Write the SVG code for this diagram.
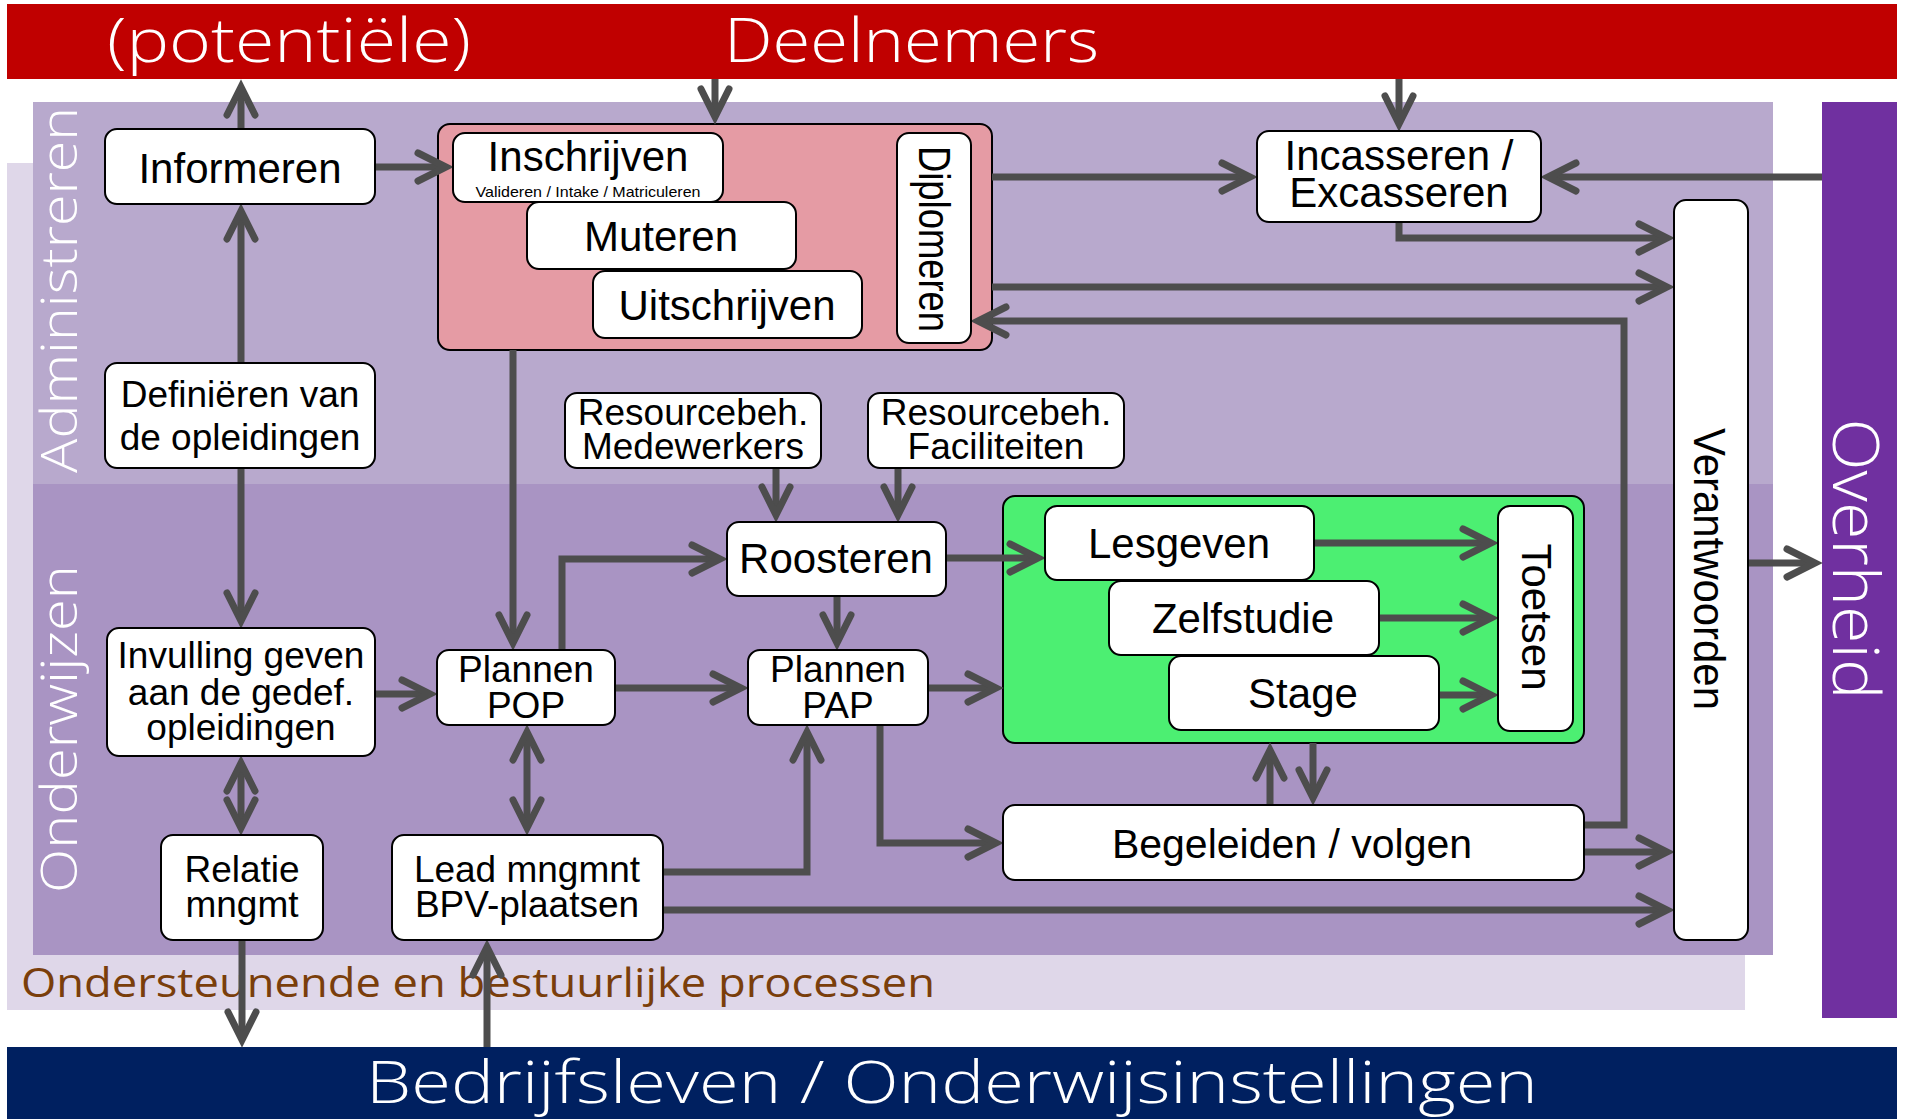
<svg xmlns="http://www.w3.org/2000/svg" width="1906" height="1119" viewBox="0 0 1906 1119">
  <style>
    .band-text { font-family: "Open Sans", "Liberation Sans", sans-serif; font-weight: 300; fill: #ffffff; }
    .lane-text { font-family: "Open Sans", "Liberation Sans", sans-serif; font-weight: 300; fill: #ffffff; }
    .box { fill: #ffffff; stroke: #000000; stroke-width: 2; }
    .lbl { font-family: "Liberation Sans", Arial, sans-serif; fill: #000000; text-anchor: middle; }
    .f42 { font-size: 42px; }
    .f37 { font-size: 37px; }
    .conn { fill: none; stroke: #4d4d4d; stroke-width: 7; marker-end: url(#ah); }
    .both { marker-start: url(#ah); }
  </style>
  <defs>
    <marker id="ah" markerUnits="userSpaceOnUse" viewBox="-40 -20 50 40" refX="0" refY="0" markerWidth="50" markerHeight="40" orient="auto-start-reverse" overflow="visible">
      <path d="M-28,-14 L0,0 L-28,14" fill="none" stroke="#4d4d4d" stroke-width="7" stroke-linecap="round" stroke-linejoin="miter"/>
    </marker>
  </defs>

  <!-- background lanes -->
  <rect x="7" y="163" width="1738" height="847" fill="#dfd7e9"/>
  <rect x="33" y="102" width="1740" height="383" fill="#b8a9cd"/>
  <rect x="33" y="484" width="1740" height="471" fill="#a994c3"/>

  <!-- outer parties -->
  <g id="deelnemers">
    <rect x="7" y="4" width="1890" height="75" fill="#c00000"/>
    <text class="band-text" x="107" y="62" font-size="60" textLength="364" lengthAdjust="spacingAndGlyphs">(potentiële)</text>
    <text class="band-text" x="724" y="62" font-size="60" textLength="375" lengthAdjust="spacingAndGlyphs">Deelnemers</text>
  </g>
  <g id="overheid">
    <rect x="1822" y="102" width="75" height="916" fill="#7030a0"/>
    <text class="band-text" transform="translate(1833,559) rotate(90)" text-anchor="middle" font-size="64" textLength="281" lengthAdjust="spacingAndGlyphs">Overheid</text>
  </g>
  <g id="bedrijfsleven">
    <rect x="7" y="1047" width="1890" height="72" fill="#002060"/>
    <text class="band-text" x="366" y="1103" font-size="58" textLength="1172" lengthAdjust="spacingAndGlyphs">Bedrijfsleven / Onderwijsinstellingen</text>
  </g>

  <!-- lane captions -->
  <text class="lane-text" transform="translate(77,290) rotate(-90)" text-anchor="middle" font-size="50" textLength="366" lengthAdjust="spacingAndGlyphs">Administreren</text>
  <text class="lane-text" transform="translate(77,729) rotate(-90)" text-anchor="middle" font-size="50" textLength="328" lengthAdjust="spacingAndGlyphs">Onderwijzen</text>
  <text x="21" y="997" font-family="'Open Sans', 'Liberation Sans', sans-serif" font-size="40" fill="#7a3e0b" textLength="914" lengthAdjust="spacingAndGlyphs">Ondersteunende en bestuurlijke processen</text>

  <!-- containers -->
  <g id="studentadmin">
    <rect x="438" y="124" width="554" height="226" rx="12" fill="#e59ba4" stroke="#000" stroke-width="2"/>
  </g>
  <g id="onderwijsuitvoering">
    <rect x="1003" y="496" width="581" height="247" rx="12" fill="#4cef72" stroke="#000" stroke-width="2"/>
  </g>

  <!-- connectors -->
  <g id="connectors">
    <path class="conn" d="M241,129 V87"/>
    <path class="conn" d="M241,363 V211"/>
    <path class="conn" d="M375,167 H446"/>
    <path class="conn" d="M715,79 V117"/>
    <path class="conn" d="M1399,79 V124"/>
    <path class="conn" d="M992,177 H1250"/>
    <path class="conn" d="M1822,177 H1548"/>
    <path class="conn" d="M1399,222 V238 H1667"/>
    <path class="conn" d="M992,287 H1667"/>
    <path class="conn" d="M1584,825 H1624 V321 H978"/>
    <path class="conn" d="M513,350 V643"/>
    <path class="conn" d="M241,468 V621"/>
    <path class="conn" d="M375,694 H430"/>
    <path class="conn" d="M562,650 V559 H720"/>
    <path class="conn" d="M776,468 V515"/>
    <path class="conn" d="M898,468 V515"/>
    <path class="conn" d="M837,596 V643"/>
    <path class="conn" d="M615,688 H741"/>
    <path class="conn" d="M928,688 H996"/>
    <path class="conn" d="M946,558 H1038"/>
    <path class="conn" d="M1314,543 H1491"/>
    <path class="conn" d="M1379,618 H1491"/>
    <path class="conn" d="M1439,695 H1491"/>
    <path class="conn" d="M880,725 V843 H996"/>
    <path class="conn" d="M1270,805 V750"/>
    <path class="conn" d="M1313,743 V798"/>
    <path class="conn" d="M1584,852 H1667"/>
    <path class="conn" d="M663,910 H1667"/>
    <path class="conn" d="M663,872 H807 V732"/>
    <path class="conn" d="M1748,563 H1815"/>
    <path class="conn both" d="M241,763 V828"/>
    <path class="conn both" d="M527,732 V828"/>
    <path class="conn" d="M242,940 V1040"/>
    <path class="conn" d="M487,1047 V947"/>
  </g>

  <!-- nodes -->
  <g id="informeren">
    <rect class="box" x="105" y="129" width="270" height="75" rx="12"/>
    <text class="lbl f42" x="240" y="183">Informeren</text>
  </g>
  <g id="inschrijven">
    <rect class="box" x="453" y="133" width="270" height="69" rx="12"/>
    <text class="lbl f42" x="588" y="171">Inschrijven</text>
    <text class="lbl" x="588" y="197" font-size="15" textLength="225" lengthAdjust="spacingAndGlyphs">Valideren / Intake / Matriculeren</text>
  </g>
  <g id="muteren">
    <rect class="box" x="527" y="202" width="269" height="67" rx="12"/>
    <text class="lbl f42" x="661" y="251">Muteren</text>
  </g>
  <g id="uitschrijven">
    <rect class="box" x="593" y="271" width="269" height="67" rx="12"/>
    <text class="lbl f42" x="727" y="320">Uitschrijven</text>
  </g>
  <g id="diplomeren">
    <rect class="box" x="897" y="133" width="74" height="210" rx="12"/>
    <text class="lbl" transform="translate(919,239) rotate(90)" font-size="44" textLength="186" lengthAdjust="spacingAndGlyphs">Diplomeren</text>
  </g>
  <g id="incasseren">
    <rect class="box" x="1257" y="131" width="284" height="91" rx="12"/>
    <text class="lbl f42" x="1399" y="170">Incasseren /</text>
    <text class="lbl f42" x="1399" y="207">Excasseren</text>
  </g>
  <g id="verantwoorden">
    <rect class="box" x="1674" y="200" width="74" height="740" rx="12"/>
    <text class="lbl" transform="translate(1694,569) rotate(90)" font-size="44" textLength="282" lengthAdjust="spacingAndGlyphs">Verantwoorden</text>
  </g>
  <g id="definieren">
    <rect class="box" x="105" y="363" width="270" height="105" rx="12"/>
    <text class="lbl f37" x="240" y="407">Definiëren van</text>
    <text class="lbl f37" x="240" y="450">de opleidingen</text>
  </g>
  <g id="resource-medewerkers">
    <rect class="box" x="565" y="393" width="256" height="75" rx="12"/>
    <text class="lbl f37" x="693" y="425">Resourcebeh.</text>
    <text class="lbl f37" x="693" y="459">Medewerkers</text>
  </g>
  <g id="resource-faciliteiten">
    <rect class="box" x="868" y="393" width="256" height="75" rx="12"/>
    <text class="lbl f37" x="996" y="425">Resourcebeh.</text>
    <text class="lbl f37" x="996" y="459">Faciliteiten</text>
  </g>
  <g id="roosteren">
    <rect class="box" x="727" y="522" width="219" height="74" rx="12"/>
    <text class="lbl f42" x="836" y="573">Roosteren</text>
  </g>
  <g id="invulling">
    <rect class="box" x="107" y="628" width="268" height="128" rx="12"/>
    <text class="lbl f37" x="241" y="668">Invulling geven</text>
    <text class="lbl f37" x="241" y="705">aan de gedef.</text>
    <text class="lbl f37" x="241" y="740">opleidingen</text>
  </g>
  <g id="plannen-pop">
    <rect class="box" x="437" y="650" width="178" height="75" rx="12"/>
    <text class="lbl f37" x="526" y="682">Plannen</text>
    <text class="lbl f37" x="526" y="718">POP</text>
  </g>
  <g id="plannen-pap">
    <rect class="box" x="748" y="650" width="180" height="75" rx="12"/>
    <text class="lbl f37" x="838" y="682">Plannen</text>
    <text class="lbl f37" x="838" y="718">PAP</text>
  </g>
  <g id="lesgeven">
    <rect class="box" x="1045" y="506" width="269" height="74" rx="12"/>
    <text class="lbl f42" x="1179" y="558">Lesgeven</text>
  </g>
  <g id="zelfstudie">
    <rect class="box" x="1109" y="581" width="270" height="74" rx="12"/>
    <text class="lbl f42" x="1243" y="633">Zelfstudie</text>
  </g>
  <g id="stage">
    <rect class="box" x="1169" y="656" width="270" height="74" rx="12"/>
    <text class="lbl f42" x="1303" y="708">Stage</text>
  </g>
  <g id="toetsen">
    <rect class="box" x="1498" y="506" width="75" height="225" rx="12"/>
    <text class="lbl f42" transform="translate(1522,617) rotate(90)">Toetsen</text>
  </g>
  <g id="begeleiden">
    <rect class="box" x="1003" y="805" width="581" height="75" rx="12"/>
    <text class="lbl" x="1292" y="858" font-size="41">Begeleiden / volgen</text>
  </g>
  <g id="relatie">
    <rect class="box" x="161" y="835" width="162" height="105" rx="12"/>
    <text class="lbl f37" x="242" y="882">Relatie</text>
    <text class="lbl f37" x="242" y="917">mngmt</text>
  </g>
  <g id="lead">
    <rect class="box" x="392" y="835" width="271" height="105" rx="12"/>
    <text class="lbl f37" x="527" y="882">Lead mngmnt</text>
    <text class="lbl f37" x="527" y="917">BPV-plaatsen</text>
  </g>
</svg>
